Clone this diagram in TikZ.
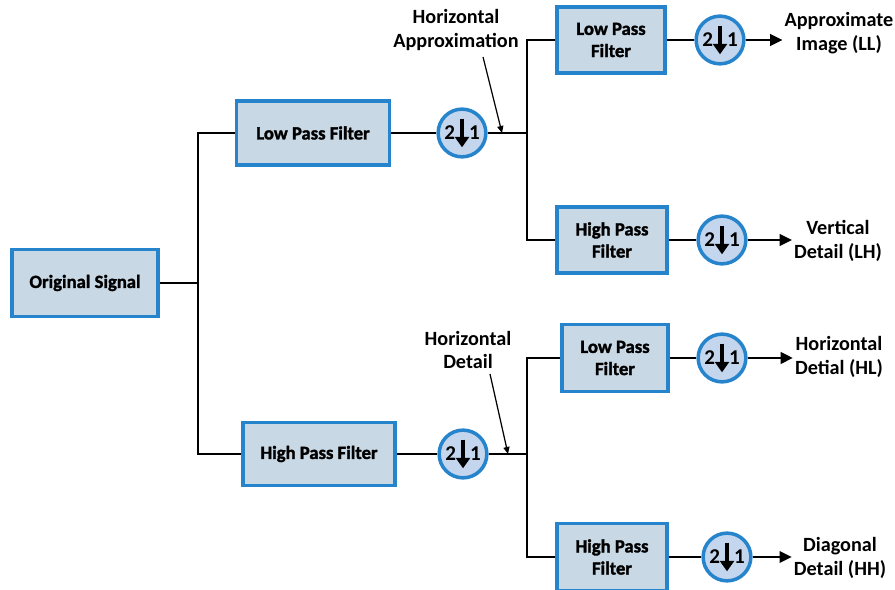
\documentclass[tikz,border=0pt]{standalone}
\usepackage{fontspec}
\setmainfont{Carlito}
\newfontfamily\boxfont[FakeBold=1.6]{Carlito Bold}
\usetikzlibrary{arrows.meta,positioning}
\definecolor{boxfill}{RGB}{200,216,228}
\definecolor{boxline}{RGB}{38,132,204}
\definecolor{dsfill}{RGB}{196,214,238}
\newcommand{\dnarrow}{\tikz[baseline=-0.55ex]\draw[line width=2pt,-{Triangle[length=6pt,width=8pt]}] (0,1.45ex) -- (0,-1.35ex);}

\begin{document}
\begin{tikzpicture}[x=0.02cm, y=-0.02cm,
  filt/.style={draw=boxline, fill=boxfill, line width=2pt, align=center, inner sep=0pt,
    font=\fontsize{10.6}{12.6}\boxfont},
  ds/.style={circle, draw=boxline, fill=dsfill, line width=2pt, minimum size=0.94cm, inner sep=0pt,
    font=\fontsize{12}{13}\selectfont\bfseries},
  wire/.style={line width=1.4pt},
  outarr/.style={wire, -{Triangle[length=7pt,width=6.5pt]}},
  notearr/.style={line width=0.7pt, -{Triangle[length=4pt,width=3.5pt]}},
  note/.style={align=center, inner sep=1pt, font=\fontsize{11.5}{13.5}\selectfont\bfseries}]
\useasboundingbox (0,0) rectangle (895,590);

% first level
\node[filt, minimum width=2.92cm, minimum height=1.34cm] (orig) at (85,283) {Original Signal};
\node[filt, minimum width=3.06cm, minimum height=1.28cm] (lpf) at (313,133) {Low Pass Filter};
\node[filt, minimum width=3.04cm, minimum height=1.26cm] (hpf) at (319,454) {High Pass Filter};
\node[ds] (dsl) at (462,133) {2\dnarrow1};
\node[ds] (dsh) at (463,454) {2\dnarrow1};
\coordinate (trunk) at (198,283);
\draw[wire] (orig) -- (trunk);
\draw[wire] (lpf) -| (trunk) |- (hpf);
\draw[wire] (lpf) -- (dsl);
\draw[wire] (hpf) -- (dsh);

% second level
\node[filt, minimum width=2.16cm, minimum height=1.32cm] (lpfa) at (611,40) {Low Pass\\Filter};
\node[filt, minimum width=2.2cm, minimum height=1.32cm] (hpfa) at (612,240) {High Pass\\Filter};
\node[filt, minimum width=2.12cm, minimum height=1.34cm] (lpfd) at (615,358) {Low Pass\\Filter};
\node[filt, minimum width=2.2cm, minimum height=1.34cm] (hpfd) at (612,557) {High Pass\\Filter};
\coordinate (splitA) at (527,133);
\coordinate (splitD) at (527,454);
\draw[wire] (dsl) -- (splitA);
\draw[wire] (dsh) -- (splitD);
\draw[wire] (lpfa) -| (splitA) |- (hpfa);
\draw[wire] (lpfd) -| (splitD) |- (hpfd);

% downsampling and outputs
\node[ds] (dsLL) at (720,40) {2\dnarrow1};
\node[ds] (dsLH) at (722,240) {2\dnarrow1};
\node[ds] (dsHL) at (722,358) {2\dnarrow1};
\node[ds] (dsHH) at (727,557) {2\dnarrow1};
\node[note] (outLL) at (839,33) {Approximate\\Image (LL)};
\node[note] (outLH) at (838,241) {Vertical\\Detail (LH)};
\node[note] (outHL) at (839,357) {Horizontal\\Detial (HL)};
\node[note] (outHH) at (840,558) {Diagonal\\Detail (HH)};
\foreach \f/\d/\o in {lpfa/dsLL/outLL, hpfa/dsLH/outLH, lpfd/dsHL/outHL, hpfd/dsHH/outHH} {
  \draw[wire] (\f) -- (\d);
  \draw[outarr] (\d) -- (\d -| \o.west);
}

% notes
\node[note] (noteA) at (456,30) {Horizontal\\Approximation};
\node[note] (noteD) at (468,350) {Horizontal\\Detail};
\coordinate (tailA) at (483,57);
\coordinate (tipA) at (502,133);
\coordinate (tailD) at (490,374);
\coordinate (tipD) at (508,454);
\draw[notearr] (tailA) -- (tipA);
\draw[notearr] (tailD) -- (tipD);
\end{tikzpicture}
\end{document}
